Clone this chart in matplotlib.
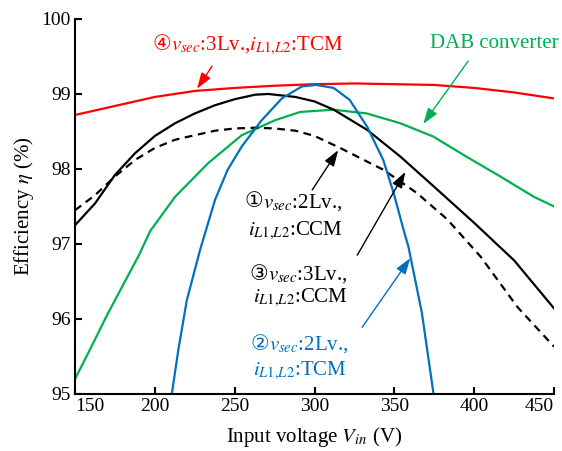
import matplotlib

matplotlib.use("Agg")

import matplotlib.pyplot as plt

# curve data (input voltage V, efficiency %)
red_v = [150, 175, 200, 225, 250, 275, 300, 325, 350, 375, 400, 425, 450]
red_eff = [98.72, 98.84, 98.96, 99.04, 99.08, 99.11, 99.13, 99.14, 99.13, 99.12, 99.08, 99.02, 98.94]

ccm3_v = [150, 162.5, 175, 187.6, 200, 212.7, 225, 237.7, 250, 262.8, 271, 288, 300, 312,
          333, 354, 375, 400, 425, 450]
ccm3_eff = [97.25, 97.54, 97.92, 98.21, 98.44, 98.61, 98.74, 98.85, 98.93, 98.99, 99.0, 98.96, 98.90, 98.79,
            98.52, 98.16, 97.76, 97.28, 96.78, 96.14]

ccm2_v = [150, 162.5, 175, 187.6, 200, 212.7, 225, 237.7, 250, 262.8, 275, 288, 300, 316,
          343, 364, 383, 404, 427, 450]
ccm2_eff = [97.45, 97.65, 97.9, 98.12, 98.28, 98.39, 98.45, 98.51, 98.54, 98.55, 98.54, 98.51, 98.44, 98.28,
            97.99, 97.68, 97.33, 96.83, 96.16, 95.63]

dab_v = [150, 160, 170, 180, 190, 197, 212.7, 233.5, 254.4, 275.3, 291, 311.8, 332.7, 353.6,
         374.5, 395.4, 416.3, 437.2, 450]
dab_eff = [95.2, 95.62, 96.05, 96.45, 96.85, 97.17, 97.63, 98.08, 98.45, 98.65, 98.76, 98.79, 98.74, 98.61,
           98.43, 98.16, 97.9, 97.63, 97.5]

tcm2_v = [210.6, 214.7, 220, 228.3, 237.7, 245.6, 254.4, 266.9, 279.5, 292, 301, 312, 322,
          333, 343, 349.5, 355.7, 358.8, 367.2, 374.5]
tcm2_eff = [95.0, 95.59, 96.25, 96.92, 97.59, 97.99, 98.3, 98.65, 98.94, 99.10, 99.12, 99.08, 98.92,
            98.56, 98.12, 97.68, 97.19, 96.96, 96.08, 95.0]

x_ticks = [150, 200, 250, 300, 350, 400, 450]
y_ticks = [95, 96, 97, 98, 99, 100]

RED = "#FF0000"
GREEN = "#00B050"
BLUE = "#0070C0"

plt.rcParams["font.family"] = ["Liberation Serif", "DejaVu Sans"]
plt.rcParams["mathtext.fontset"] = "stix"
plt.rcParams["font.size"] = 15

fig = plt.figure(figsize=(5.62, 4.51), dpi=100)
ax = fig.add_axes([0.1335, 0.1264, 0.8525, 0.8316])

ax.plot(red_v, red_eff, color=RED, lw=1.6)
ax.plot(dab_v, dab_eff, color=GREEN, lw=1.6)
ax.plot(ccm3_v, ccm3_eff, color="black", lw=1.6)
ax.plot(ccm2_v, ccm2_eff, color="black", lw=1.6, linestyle=(0, (3.5, 2.5)))
ax.plot(tcm2_v, tcm2_eff, color=BLUE, lw=1.6)

ax.set_xlim(150, 450)
ax.set_ylim(95, 100)
ax.set_xticks(x_ticks)
ax.set_yticks(y_ticks)
labels = ax.get_xticklabels()
labels[0].set_horizontalalignment("left")
labels[-1].set_horizontalalignment("right")

for side in ["top", "right"]:
    ax.spines[side].set_visible(False)
for side in ["left", "bottom"]:
    ax.spines[side].set_linewidth(1.5)
ax.tick_params(direction="in", length=5, width=1.5, labelsize=14, pad=3)

ax.set_xlabel(r"Input voltage $V_{in}$ (V)", fontsize=15, labelpad=7)
ax.set_ylabel(r"Efficiency $\eta$ (%)", fontsize=15, labelpad=4)

renderer = fig.canvas.get_renderer()


def circled_label(x, y, digit, rest, color):
    # circled digit comes from DejaVu Sans, the rest goes beside it
    t = ax.text(x, y, digit, color=color, va="baseline", ha="left", family="DejaVu Sans", fontsize=15)
    w = t.get_window_extent(renderer=renderer).width * 72 / fig.dpi
    ax.annotate(rest, xy=(x, y), xytext=(w, 0), textcoords="offset points",
                va="baseline", ha="left", color=color, fontsize=15)


def arrow(tip, tail, color):
    ax.annotate("", xy=tip, xytext=tail,
                arrowprops=dict(arrowstyle="-|>,head_length=0.65,head_width=0.22",
                                lw=1.0, mutation_scale=15, shrinkA=0, shrinkB=0, color=color))


circled_label(198.2, 99.587, "④", "$v_{sec}$:3Lv.,$i_{L1{,}L2}$:TCM", RED)
arrow((226.4, 99.07), (235.8, 99.37), RED)

ax.text(372.4, 99.61, "DAB converter", color=GREEN, va="baseline", ha="left", fontsize=15)
arrow((368.0, 98.6), (396.2, 99.44), GREEN)

circled_label(255.9, 97.49, "①", "$v_{sec}$:2Lv.,", "black")
ax.text(258.4, 97.12, "$i_{L1{,}L2}$:CCM", color="black", va="baseline", ha="left", fontsize=15)
arrow((314.8, 98.25), (298.5, 97.72), "black")

circled_label(259.2, 96.52, "③", "$v_{sec}$:3Lv.,", "black")
ax.text(261.7, 96.23, "$i_{L1{,}L2}$:CCM", color="black", va="baseline", ha="left", fontsize=15)
arrow((356.8, 97.96), (326.7, 96.85), "black")

circled_label(259.6, 95.59, "②", "$v_{sec}$:2Lv.,", BLUE)
ax.text(261.7, 95.25, "$i_{L1{,}L2}$:TCM", color=BLUE, va="baseline", ha="left", fontsize=15)
arrow((359.9, 96.81), (329.8, 95.89), BLUE)

fig.savefig("out.png", dpi=100)
plt.close(fig)
